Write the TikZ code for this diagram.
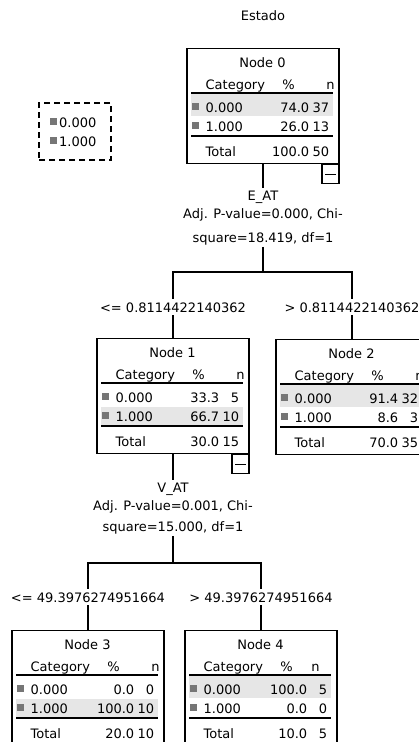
\documentclass[tikz,border=0pt]{standalone}
\usepackage{fontspec}
\setmainfont{DejaVu Sans}
\usetikzlibrary{positioning}

\definecolor{markgray}{HTML}{767676}
\definecolor{rowgray}{HTML}{E6E6E6}

% one box of the tree: name, top centre, number, % and n of 0.000, of 1.000, of Total
\newcommand{\treenode}[9]{%
  \node[nodebox, anchor=north] (#1) at #2 {};
  \ifnum#5>#7\relax
    \fill[rowgray] ([shift={(5,46)}]#1.north west) rectangle ([shift={(147,68)}]#1.north west);
  \else
    \fill[rowgray] ([shift={(5,69)}]#1.north west) rectangle ([shift={(147,87)}]#1.north west);
  \fi
  \ifnum#9<10\relax \def\nheadx{131}\else \def\nheadx{144}\fi
  % titel en kopregel
  \node[cell, anchor=base] (#1-ttl) at ([shift={(76,19)}]#1.north west) {Node #3};
  \node[cell, anchor=base west] (#1-cat) at ([shift={(19,41)}]#1.north west) {Category};
  \node[cell, anchor=base] (#1-pc) at ([shift={(102,41)}]#1.north west) {\%};
  \node[cell, anchor=base] (#1-nn) at ([shift={(\nheadx,41)}]#1.north west) {n};
  \draw[rule] ([shift={(5,45)}]#1.north west) -- ++(142,0);
  % rij 0.000
  \fill[markgray] ([shift={(6,55)}]#1.north west) rectangle ++(7,7);
  \node[cell, anchor=base west] (#1-a) at ([shift={(19,64)}]#1.north west) {0.000};
  \node[cell, anchor=base east] (#1-ap) at ([shift={(123,64)}]#1.north west) {#4};
  \node[cell, anchor=base east] (#1-an) at ([shift={(143,64)}]#1.north west) {#5};
  % rij 1.000
  \fill[markgray] ([shift={(6,74)}]#1.north west) rectangle ++(7,7);
  \node[cell, anchor=base west] (#1-b) at ([shift={(19,83)}]#1.north west) {1.000};
  \node[cell, anchor=base east] (#1-bp) at ([shift={(123,83)}]#1.north west) {#6};
  \node[cell, anchor=base east] (#1-bn) at ([shift={(143,83)}]#1.north west) {#7};
  \draw[rule] ([shift={(5,88)}]#1.north west) -- ++(142,0);
  % totaal
  \node[cell, anchor=base west] (#1-tot) at ([shift={(19,108)}]#1.north west) {Total};
  \node[cell, anchor=base east] (#1-tp) at ([shift={(123,108)}]#1.north west) {#8};
  \node[cell, anchor=base east] (#1-tn) at ([shift={(143,108)}]#1.north west) {#9};
}

\begin{document}
\begin{tikzpicture}[x=1pt, y=-1pt,
    cell/.style={inner sep=0pt, font=\fontsize{13}{16}\selectfont},
    nodebox/.style={draw, line width=1.1pt, minimum width=152pt, minimum height=115pt, inner sep=0pt},
    rule/.style={line width=1.4pt},
    edge/.style={line width=1.1pt},
    splitlbl/.style={cell, anchor=base, inner sep=2pt},
    cutlbl/.style={cell, anchor=base, fill=white, inner sep=3pt},
    minusbox/.style={draw, line width=1.1pt, minimum width=17pt, minimum height=19pt, inner sep=0pt, anchor=north east},
    legbox/.style={draw, line width=1.1pt, dash pattern=on 6pt off 4pt, minimum width=72pt, minimum height=57pt}]
    \useasboundingbox (0,0) rectangle (419,742);
    \clip (0,0) rectangle (419,742);

    % kop en legenda
    \node[cell, anchor=base] (title) at (263,20) {Estado};
    \node[legbox] (leg) at (75,131.5) {};
    \fill[markgray] (50,118) rectangle ++(7,7);
    \node[cell, anchor=base west] (leg-a) at (59,127) {0.000};
    \fill[markgray] (50,137) rectangle ++(7,7);
    \node[cell, anchor=base west] (leg-b) at (59,146) {1.000};

    % de knopen
    \treenode{n0}{(263,48)}{0}{74.0}{37}{26.0}{13}{100.0}{50}
    \treenode{n1}{(173,338)}{1}{33.3}{5}{66.7}{10}{30.0}{15}
    \treenode{n2}{(352,339)}{2}{91.4}{32}{8.6}{3}{70.0}{35}
    \treenode{n3}{(88,630)}{3}{0.0}{0}{100.0}{10}{20.0}{10}
    \treenode{n4}{(261,630)}{4}{100.0}{5}{0.0}{0}{10.0}{5}

    % inklapknopjes
    \node[minusbox] (m0) at (n0.south east) {};
    \draw[edge] ([xshift=4pt]m0.west) -- ([xshift=-4pt]m0.east);
    \node[minusbox] (m1) at (n1.south east) {};
    \draw[edge] ([xshift=4pt]m1.west) -- ([xshift=-4pt]m1.east);

    % eerste splitsing: E_AT
    \node[splitlbl] (sp0) at (263,200) {E\_AT};
    \node[splitlbl] (sp0b) at (263,218) {Adj. P-value=0.000, Chi-};
    \node[splitlbl] (sp0c) at (263,242) {square=18.419, df=1};
    \coordinate (f0) at (263,272);
    \draw[edge] (n0.south) -- (sp0.north);
    \draw[edge] (sp0c.south) -- (f0);
    \draw[edge] (n1.north) |- (f0) -| (n2.north);
    \node[cutlbl] (c1) at (173,312) {<= 0.8114422140362};
    \node[cutlbl] (c2) at (352,312) {> 0.8114422140362};

    % tweede splitsing: V_AT
    \node[splitlbl] (sp1) at (173,492) {V\_AT};
    \node[splitlbl] (sp1b) at (173,510) {Adj. P-value=0.001, Chi-};
    \node[splitlbl] (sp1c) at (173,531) {square=15.000, df=1};
    \coordinate (f1) at (173,563);
    \draw[edge] (n1.south) -- (sp1.north);
    \draw[edge] (sp1c.south) -- (f1);
    \draw[edge] (n3.north) |- (f1) -| (n4.north);
    \node[cutlbl] (c3) at (88,602) {<= 49.3976274951664};
    \node[cutlbl] (c4) at (261,602) {> 49.3976274951664};
\end{tikzpicture}
\end{document}
